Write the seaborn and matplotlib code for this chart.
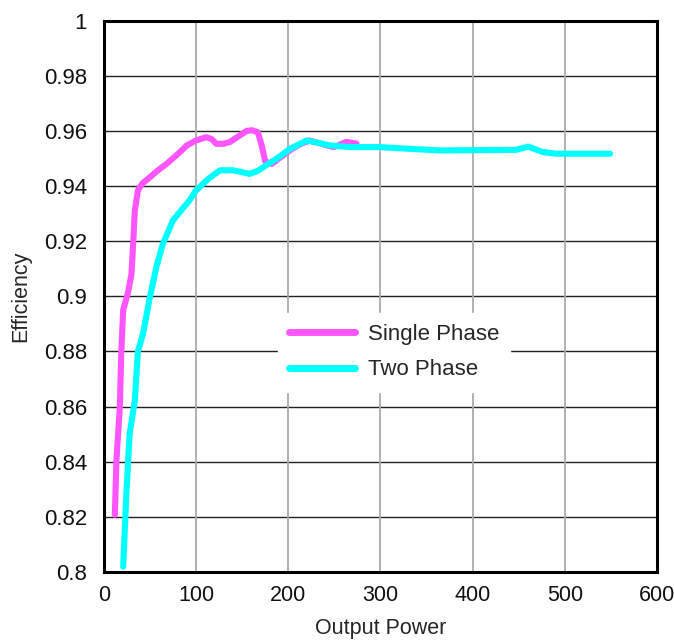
import matplotlib
matplotlib.use("Agg")
import matplotlib.pyplot as plt
import seaborn as sns
import pandas as pd

single_x = [12, 13.7, 17.4, 19, 21, 26, 30, 32, 33.6, 37, 42, 48, 58, 68, 80, 90, 100, 111, 117, 122, 130, 137, 146, 155, 161, 167, 171, 175, 182, 190, 202, 212, 223, 236, 249, 256, 263, 274]
single_y = [0.8208, 0.8406, 0.860, 0.880, 0.895, 0.901, 0.908, 0.920, 0.931, 0.9384, 0.9410, 0.9426, 0.9455, 0.948, 0.9515, 0.9547, 0.9565, 0.9577, 0.9570, 0.9553, 0.9553, 0.956, 0.9580, 0.960, 0.9602, 0.9595, 0.955, 0.949, 0.948, 0.950, 0.953, 0.9550, 0.9565, 0.9553, 0.9541, 0.9550, 0.956, 0.9554]

two_x = [21, 24.5, 28, 33.6, 37, 42.6, 50, 57, 64, 75, 84, 93, 100, 113, 126, 140, 150, 158, 167, 176, 190, 202, 220, 232, 245, 267, 299, 330, 364, 447, 455, 460, 468, 476, 491, 549]
two_y = [0.8019, 0.8285, 0.850, 0.862, 0.880, 0.8865, 0.8997, 0.9106, 0.919, 0.9275, 0.9312, 0.9348, 0.9384, 0.9425, 0.9457, 0.9457, 0.9450, 0.9444, 0.9455, 0.9475, 0.9505, 0.9535, 0.9565, 0.9557, 0.9547, 0.9541, 0.9541, 0.9535, 0.9529, 0.9531, 0.9538, 0.9543, 0.9533, 0.9523, 0.9517, 0.9517]

series_names = ["Single Phase", "Two Phase"]
x_ticks = [0, 100, 200, 300, 400, 500, 600]
y_ticks = [0.8, 0.82, 0.84, 0.86, 0.88, 0.9, 0.92, 0.94, 0.96, 0.98, 1]
y_tick_labels = ["0.8", "0.82", "0.84", "0.86", "0.88", "0.9", "0.92", "0.94", "0.96", "0.98", "1"]

df = pd.concat([
    pd.DataFrame({"Output Power": single_x, "Efficiency": single_y, "Series": series_names[0]}),
    pd.DataFrame({"Output Power": two_x, "Efficiency": two_y, "Series": series_names[1]}),
])

sns.set_style("white")
plt.rcParams["font.family"] = ["Liberation Sans", "DejaVu Sans"]

fig = plt.figure(figsize=(6.74, 6.42), dpi=100)
ax = fig.add_axes([0.154, 0.109, 0.821, 0.859])

palette = {"Single Phase": "#ff55ff", "Two Phase": "#00ffff"}
sns.lineplot(data=df, x="Output Power", y="Efficiency", hue="Series", palette=palette,
             sort=False, estimator=None, linewidth=4.4, ax=ax, zorder=3)
for ln in ax.get_lines():
    ln.set_solid_joinstyle("round")
    ln.set_solid_capstyle("round")

ax.set_xlim(0, 600)
ax.set_ylim(0.8, 1.0)
ax.set_xticks(x_ticks)
ax.set_yticks(y_ticks)
ax.set_yticklabels(y_tick_labels)
ax.tick_params(axis="x", labelsize=15.5, length=0, pad=9, colors="#111111")
ax.tick_params(axis="y", labelsize=16, length=0, pad=12, colors="#111111")

for yv in y_ticks[1:-1]:
    ax.axhline(yv, color="#222222", linewidth=1.0, zorder=1)
for xv in x_ticks[1:-1]:
    ax.axvline(xv, color="#aaaaaa", linewidth=1.3, zorder=1)

for s in ax.spines.values():
    s.set_visible(True)
    s.set_color("black")
    s.set_linewidth(2.2)

ax.set_xlabel("Output Power", fontsize=15.5, labelpad=9)
ax.set_ylabel("Efficiency", fontsize=15.5, labelpad=9)

leg = ax.legend(loc="upper left", bbox_to_anchor=(0.294, 0.49), frameon=True,
                fontsize=16, handlelength=3.0, handletextpad=0.55, borderpad=0.5,
                labelspacing=0.65, fancybox=False)
leg.get_frame().set_edgecolor("white")
leg.get_frame().set_facecolor("white")
leg.get_frame().set_alpha(1)
for h in leg.get_lines():
    h.set_linewidth(5)
    h.set_solid_capstyle("round")
leg.set_zorder(5)

fig.savefig("out.png", dpi=100)
